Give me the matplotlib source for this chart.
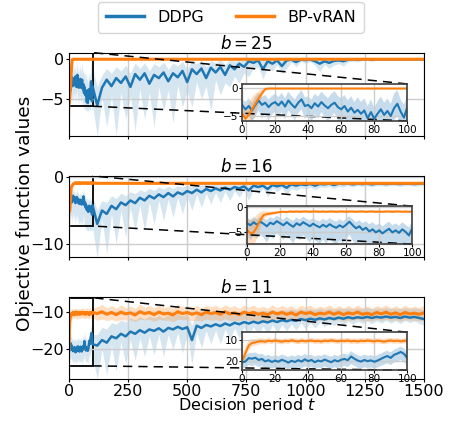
import numpy as np
import matplotlib
matplotlib.use("Agg")
import matplotlib.pyplot as plt
from mpl_toolkits.axes_grid1.inset_locator import mark_inset

# time grid: fine steps for the first 100 periods (zoomed part), coarser after
t_early = np.arange(0, 101, 2)
t_late = np.arange(120, 1501, 20)
t = np.concatenate([t_early, t_late])

# ---- b = 25 ----
ddpg_25 = [
    -3.0, -3.8, -3.2, -4.0, -3.0, -2.2, -3.0, -2.6, -3.4, -2.8,
    -2.5, -3.1, -2.4, -3.3, -2.2, -2.9, -3.5, -2.6, -2.0, -3.2,
    -3.0, -3.6, -2.7, -3.3, -2.5, -3.1, -3.6, -3.0, -2.6, -3.4,
    -3.8, -3.2, -4.2, -3.5, -4.4, -3.9, -4.6, -4.0, -5.4, -4.3,
    -5.5, -4.6, -3.8, -4.8, -4.1, -5.0, -3.6, -2.8, -4.2, -5.3,
    -3.4,
    -5.8, -3.6, -2.6, -3.4, -2.4, -3.0, -2.2, -3.5, -1.9, -2.6,
    -1.8, -3.1, -2.0, -2.4, -1.7, -2.8, -1.8, -2.3, -1.5, -2.9,
    -1.3, -1.9, -1.2, -2.4, -1.1, -1.7, -1.0, -2.0, -0.8, -1.3,
    -0.6, -1.0, -0.3, -0.5, -0.2, -1.3, -0.3, -0.6, -0.2, -0.9,
    -0.2, -0.1, -0.4, -0.1, -0.15, -0.1, -0.3, -0.6, -0.3, -0.5,
    -0.25, -0.2, -0.3, -0.1, -0.05, -0.1, -0.05, -0.05, -0.1, -0.05,
    -0.05, -0.05, -0.05, -0.05, -0.05, -0.05, -0.05, -0.05, -0.05, -0.05,
]
ddpg_25_lo = [
    -4.5, -5.5, -5.0, -6.0, -5.2, -4.0, -5.5, -4.5, -5.8, -4.8,
    -4.2, -5.0, -4.3, -5.6, -4.0, -4.8, -5.8, -4.5, -3.8, -5.5,
    -5.0, -6.0, -4.6, -5.5, -4.3, -5.2, -6.0, -5.0, -4.5, -5.8,
    -6.2, -5.4, -6.5, -5.8, -6.5, -6.2, -6.5, -6.3, -6.5, -6.5,
    -6.5, -6.5, -6.0, -6.5, -6.3, -6.5, -5.8, -5.0, -6.5, -6.5,
    -5.8,
    -9.6, -4.8, -8.5, -4.6, -9.6, -4.2, -7.5, -4.6, -9.0, -3.8,
    -7.5, -4.2, -8.5, -3.5, -6.5, -3.9, -8.0, -3.3, -6.0, -4.0,
    -6.0, -2.8, -5.0, -3.4, -6.5, -2.6, -4.5, -3.0, -3.5, -2.2,
    -3.0, -1.8, -2.2, -1.2, -1.0, -2.5, -1.0, -1.5, -0.7, -1.8,
    -1.2, -0.4, -1.0, -0.3, -0.6, -0.3, -0.8, -1.6, -0.7, -1.2,
    -0.8, -0.6, -0.9, -0.4, -0.3, -0.4, -0.2, -0.2, -0.3, -0.2,
    -0.2, -0.2, -0.2, -0.2, -0.2, -0.2, -0.2, -0.2, -0.2, -0.2,
]
ddpg_25_hi = [
    -1.8, -2.5, -1.8, -2.6, -1.5, -0.8, -1.6, -1.2, -2.0, -1.4,
    -1.0, -1.6, -0.8, -1.8, -0.6, -1.4, -2.0, -1.0, -0.3, -1.6,
    -1.5, -2.0, -1.0, -1.5, -0.6, -1.2, -1.8, -1.0, -0.5, -1.4,
    -1.8, -1.2, -2.2, -1.4, -2.5, -1.6, -2.5, -1.8, -3.2, -2.0,
    -3.5, -2.4, -1.5, -2.6, -1.8, -2.8, -1.0, -0.3, -2.0, -3.0,
    -1.2,
    -3.5, -2.0, -1.2, -1.8, -1.0, -1.5, -0.8, -1.8, -0.5, -1.2,
    -0.5, -1.5, -0.6, -1.0, -0.4, -1.3, -0.5, -0.9, -0.3, -1.3,
    -0.2, -0.6, -0.2, -1.0, -0.2, -0.5, -0.1, -0.7, -0.1, -0.3,
    -0.05, -0.2, 0.0, 0.0, 0.0, 0.0, 0.0, 0.0, 0.0, 0.0,
    0.0, 0.0, 0.0, 0.0, 0.0, 0.0, 0.0, 0.0, 0.0, 0.0,
    0.0, 0.0, 0.0, 0.0, 0.0, 0.0, 0.0, 0.0, 0.0, 0.0,
    0.0, 0.0, 0.0, 0.0, 0.0, 0.0, 0.0, 0.0, 0.0, 0.0,
]
bp_25 = [
    -4.5, -5.5, -4.8, -3.8, -2.8, -1.8, -0.9, -0.15, -0.05, -0.05,
    -0.05, -0.05, -0.05, -0.05, -0.05, -0.05, -0.05, -0.05, -0.05, -0.05,
    -0.05, -0.05, -0.05, -0.05, -0.05, -0.05, -0.05, -0.05, -0.05, -0.05,
    -0.05, -0.05, -0.05, -0.05, -0.05, -0.05, -0.05, -0.05, -0.05, -0.05,
    -0.05, -0.05, -0.05, -0.05, -0.05, -0.05, -0.05, -0.05, -0.05, -0.05,
    -0.05,
    -0.05, -0.05, -0.05, -0.05, -0.05, -0.05, -0.05, -0.05, -0.05, -0.05,
    -0.05, -0.05, -0.05, -0.05, -0.05, -0.05, -0.05, -0.05, -0.05, -0.05,
    -0.05, -0.05, -0.05, -0.05, -0.05, -0.05, -0.05, -0.05, -0.05, -0.05,
    -0.05, -0.05, -0.05, -0.05, -0.05, -0.05, -0.05, -0.05, -0.05, -0.05,
    -0.05, -0.05, -0.05, -0.05, -0.05, -0.05, -0.05, -0.05, -0.05, -0.05,
    -0.05, -0.05, -0.05, -0.05, -0.05, -0.05, -0.05, -0.05, -0.05, -0.05,
    -0.05, -0.05, -0.05, -0.05, -0.05, -0.05, -0.05, -0.05, -0.05, -0.05,
]
bp_25_sd = [
    1.2, 1.5, 2.0, 2.2, 1.8, 1.2, 0.8, 0.3, 0.1, 0.1,
    0.1, 0.1, 0.1, 0.1, 0.1, 0.1, 0.1, 0.1, 0.1, 0.1,
    0.1, 0.1, 0.1, 0.1, 0.1, 0.1, 0.1, 0.1, 0.1, 0.1,
    0.1, 0.1, 0.1, 0.1, 0.1, 0.1, 0.1, 0.1, 0.1, 0.1,
    0.1, 0.1, 0.1, 0.1, 0.1, 0.1, 0.1, 0.1, 0.1, 0.1,
    0.1,
    0.05, 0.05, 0.05, 0.05, 0.05, 0.05, 0.05, 0.05, 0.05, 0.05,
    0.05, 0.05, 0.05, 0.05, 0.05, 0.05, 0.05, 0.05, 0.05, 0.05,
    0.05, 0.05, 0.05, 0.05, 0.05, 0.05, 0.05, 0.05, 0.05, 0.05,
    0.05, 0.05, 0.05, 0.05, 0.05, 0.05, 0.05, 0.05, 0.05, 0.05,
    0.05, 0.05, 0.05, 0.05, 0.05, 0.05, 0.05, 0.05, 0.05, 0.05,
    0.05, 0.05, 0.05, 0.05, 0.05, 0.05, 0.05, 0.05, 0.05, 0.05,
    0.05, 0.05, 0.05, 0.05, 0.05, 0.05, 0.05, 0.05, 0.05, 0.05,
]

# ---- b = 16 ----
ddpg_16 = [
    -3.2, -3.6, -3.0, -3.5, -2.9, -3.3, -3.8, -3.1, -3.4, -2.8,
    -3.2, -3.6, -3.0, -3.5, -3.9, -3.2, -3.6, -3.0, -3.4, -3.8,
    -3.3, -3.7, -4.0, -3.5, -3.9, -3.4, -3.8, -4.1, -3.6, -4.0,
    -3.5, -2.9, -3.6, -4.2, -3.8, -4.5, -4.1, -4.8, -4.4, -5.0,
    -4.6, -5.2, -4.7, -4.3, -5.0, -4.6, -5.1, -4.4, -4.9, -5.6,
    -4.2,
    -7.0, -5.0, -5.5, -4.3, -4.8, -3.8, -4.2, -3.5, -3.9, -3.1,
    -3.5, -2.8, -3.2, -2.6, -3.0, -2.4, -2.9, -2.3, -2.6, -2.1,
    -2.4, -1.9, -2.3, -1.8, -2.1, -1.7, -2.0, -1.6, -1.9, -1.5,
    -1.7, -1.4, -2.0, -1.3, -1.5, -1.3, -1.8, -1.2, -1.4, -1.2,
    -1.6, -1.1, -1.3, -1.1, -1.2, -1.05, -1.3, -1.05, -1.1, -1.0,
    -1.2, -1.0, -1.05, -1.0, -1.1, -1.0, -1.05, -1.0, -1.1, -1.0,
    -1.0, -1.05, -1.0, -1.0, -1.05, -1.0, -1.0, -1.05, -1.0, -1.0,
]
ddpg_16_lo = [
    -5.5, -6.5, -5.8, -6.2, -5.5, -6.0, -7.0, -5.8, -6.3, -5.2,
    -5.8, -6.5, -5.5, -6.3, -7.2, -5.8, -6.6, -5.5, -6.2, -7.0,
    -6.0, -6.8, -7.3, -6.4, -7.2, -6.2, -7.0, -7.5, -6.6, -7.3,
    -6.4, -5.5, -6.6, -7.6, -7.0, -7.8, -7.4, -8.0, -7.8, -8.0,
    -8.0, -8.0, -8.0, -7.6, -8.0, -8.0, -8.0, -7.8, -8.0, -8.0,
    -7.6,
    -12.0, -6.2, -11.5, -5.5, -10.0, -5.0, -9.0, -4.6, -8.0, -4.2,
    -8.0, -3.8, -7.0, -3.5, -6.5, -3.3, -6.0, -3.1, -5.5, -2.9,
    -5.0, -2.6, -4.5, -2.5, -4.0, -2.3, -3.8, -2.2, -3.5, -2.1,
    -3.0, -1.9, -3.5, -1.8, -2.5, -1.7, -3.0, -1.6, -2.2, -1.6,
    -2.6, -1.7, -2.0, -1.6, -1.8, -1.5, -1.9, -1.5, -1.6, -1.4,
    -1.7, -1.4, -1.5, -1.3, -1.5, -1.3, -1.4, -1.3, -1.5, -1.3,
    -1.3, -1.4, -1.3, -1.3, -1.4, -1.3, -1.3, -1.4, -1.3, -1.3,
]
ddpg_16_hi = [
    -2.2, -2.5, -2.0, -2.4, -1.8, -2.2, -2.6, -2.0, -2.3, -1.7,
    -2.1, -2.5, -1.9, -2.4, -2.7, -2.1, -2.5, -1.9, -2.3, -2.6,
    -2.2, -2.6, -2.8, -2.3, -2.7, -2.2, -2.6, -2.9, -2.4, -2.8,
    -2.3, -1.8, -2.4, -3.0, -2.6, -3.2, -2.8, -3.4, -3.0, -3.6,
    -3.2, -3.8, -3.3, -2.9, -3.6, -3.2, -3.7, -3.0, -3.5, -4.0,
    -2.9,
    -5.0, -3.5, -3.8, -2.8, -3.2, -2.4, -2.8, -2.2, -2.5, -1.9,
    -2.2, -1.7, -2.0, -1.5, -1.8, -1.4, -1.7, -1.3, -1.5, -1.2,
    -1.4, -1.1, -1.3, -1.0, -1.2, -0.9, -1.1, -0.9, -1.0, -0.8,
    -0.9, -0.8, -1.0, -0.7, -0.8, -0.7, -0.9, -0.7, -0.8, -0.7,
    -0.8, -0.7, -0.7, -0.7, -0.7, -0.7, -0.7, -0.7, -0.7, -0.7,
    -0.7, -0.7, -0.7, -0.7, -0.7, -0.7, -0.7, -0.7, -0.7, -0.7,
    -0.7, -0.7, -0.7, -0.7, -0.7, -0.7, -0.7, -0.7, -0.7, -0.7,
]
bp_16 = [
    -4.5, -5.2, -5.0, -3.9, -2.6, -1.6, -1.4, -1.3, -1.2, -1.1,
    -1.0, -0.95, -1.0, -0.9, -0.95, -0.9, -0.95, -0.9, -0.9, -0.95,
    -0.9, -0.9, -0.95, -0.9, -0.95, -0.9, -0.9, -0.95, -0.9, -0.9,
    -0.95, -0.9, -0.9, -0.95, -0.9, -0.9, -0.95, -0.9, -0.9, -0.95,
    -0.9, -0.95, -0.9, -0.9, -0.95, -0.9, -0.9, -0.95, -0.9, -0.95,
    -0.9,
    -0.95, -0.95, -0.95, -0.95, -0.95, -0.95, -0.95, -0.95, -0.95, -0.95,
    -0.95, -0.95, -0.95, -0.95, -0.95, -0.95, -0.95, -0.95, -0.95, -0.95,
    -0.95, -0.95, -0.95, -0.95, -0.95, -0.95, -0.95, -0.95, -0.95, -0.95,
    -0.95, -0.95, -0.95, -0.95, -0.95, -0.95, -0.95, -0.95, -0.95, -0.95,
    -0.95, -0.95, -0.95, -0.95, -0.95, -0.95, -0.95, -0.95, -0.95, -0.95,
    -0.95, -0.95, -0.95, -0.95, -0.95, -0.95, -0.95, -0.95, -0.95, -0.95,
    -0.95, -0.95, -0.95, -0.95, -0.95, -0.95, -0.95, -0.95, -0.95, -0.95,
]
bp_16_sd = [
    2.5, 2.5, 2.6, 2.4, 1.6, 0.8, 0.5, 0.4, 0.3, 0.25,
    0.2, 0.2, 0.2, 0.2, 0.2, 0.2, 0.2, 0.2, 0.2, 0.2,
    0.2, 0.2, 0.2, 0.2, 0.2, 0.2, 0.2, 0.2, 0.2, 0.2,
    0.2, 0.2, 0.2, 0.2, 0.2, 0.2, 0.2, 0.2, 0.2, 0.2,
    0.2, 0.2, 0.2, 0.2, 0.2, 0.2, 0.2, 0.2, 0.2, 0.2,
    0.2,
    0.15, 0.15, 0.15, 0.15, 0.15, 0.15, 0.15, 0.15, 0.15, 0.15,
    0.15, 0.15, 0.15, 0.15, 0.15, 0.15, 0.15, 0.15, 0.15, 0.15,
    0.15, 0.15, 0.15, 0.15, 0.15, 0.15, 0.15, 0.15, 0.15, 0.15,
    0.15, 0.15, 0.15, 0.15, 0.15, 0.15, 0.15, 0.15, 0.15, 0.15,
    0.15, 0.15, 0.15, 0.15, 0.15, 0.15, 0.15, 0.15, 0.15, 0.15,
    0.15, 0.15, 0.15, 0.15, 0.15, 0.15, 0.15, 0.15, 0.15, 0.15,
    0.15, 0.15, 0.15, 0.15, 0.15, 0.15, 0.15, 0.15, 0.15, 0.15,
]

# ---- b = 11 ----
ddpg_11 = [
    -20.8, -20.2, -18.6, -18.9, -18.4, -19.5, -19.0, -20.2, -19.6, -20.5,
    -19.8, -20.4, -19.4, -20.0, -20.8, -19.9, -20.5, -19.6, -20.3, -19.2,
    -20.1, -19.5, -20.6, -19.8, -20.2, -19.3, -20.0, -20.6, -19.6, -20.2,
    -19.4, -19.0, -19.6, -17.8, -18.9, -19.8, -20.3, -19.5, -20.1, -19.7,
    -20.4, -19.8, -19.0, -18.2, -17.6, -18.5, -17.0, -16.4, -15.6, -16.5,
    -18.6,
    -19.0, -17.5, -18.2, -16.5, -17.0, -15.8, -16.5, -15.2, -15.8, -14.8,
    -15.5, -14.6, -15.0, -14.3, -15.2, -14.2, -14.6, -13.9, -14.5, -14.0,
    -17.5, -13.6, -14.2, -13.4, -13.8, -13.2, -13.7, -13.0, -13.5, -12.8,
    -13.2, -12.6, -13.0, -12.5, -12.9, -12.4, -12.7, -12.2, -12.6, -12.1,
    -12.4, -12.0, -12.3, -11.8, -12.1, -11.7, -12.0, -11.6, -11.9, -11.5,
    -11.8, -11.4, -11.7, -11.3, -11.6, -11.3, -11.5, -11.2, -11.5, -11.2,
    -11.4, -11.1, -11.4, -11.2, -11.5, -11.1, -11.4, -11.2, -11.5, -11.8,
]
ddpg_11_lo = [
    -23.5, -23.5, -22.0, -22.5, -22.0, -23.0, -22.5, -23.5, -23.0, -23.8,
    -23.0, -23.8, -22.8, -23.5, -24.0, -23.2, -23.8, -23.0, -23.6, -22.6,
    -23.4, -22.8, -24.0, -23.2, -23.5, -22.7, -23.4, -24.0, -23.0, -23.6,
    -22.8, -22.4, -23.0, -21.5, -22.4, -23.2, -23.8, -23.0, -23.5, -23.2,
    -23.8, -23.2, -22.5, -21.8, -21.2, -22.0, -20.8, -20.2, -19.5, -20.5,
    -22.2,
    -28.0, -20.0, -27.0, -19.0, -26.0, -18.0, -24.0, -17.5, -23.0, -17.0,
    -22.0, -16.5, -21.5, -16.0, -22.0, -16.0, -20.0, -15.5, -21.0, -16.0,
    -24.0, -15.5, -19.5, -15.0, -18.5, -14.8, -18.5, -14.5, -17.5, -14.3,
    -17.0, -14.0, -16.5, -13.8, -16.5, -13.7, -16.0, -13.4, -15.5, -13.3,
    -15.0, -13.1, -14.8, -12.9, -14.5, -12.8, -14.2, -12.7, -14.0, -12.6,
    -13.6, -12.5, -13.4, -12.4, -13.2, -12.4, -13.0, -12.3, -13.1, -12.3,
    -12.9, -12.2, -12.9, -12.3, -13.0, -12.2, -12.8, -12.3, -13.0, -13.4,
]
ddpg_11_hi = [
    -18.0, -17.5, -16.0, -16.2, -15.8, -16.8, -16.4, -17.5, -17.0, -17.8,
    -17.2, -17.8, -16.8, -17.4, -18.0, -17.3, -17.8, -17.0, -17.6, -16.6,
    -17.4, -16.9, -17.9, -17.2, -17.5, -16.7, -17.4, -17.9, -17.0, -17.6,
    -16.8, -16.4, -17.0, -15.2, -16.3, -17.2, -17.6, -16.9, -17.4, -17.1,
    -17.7, -17.1, -16.4, -15.6, -15.0, -15.8, -14.5, -13.8, -13.0, -13.8,
    -16.0,
    -16.0, -14.0, -14.5, -12.8, -13.2, -12.0, -12.6, -11.5, -12.0, -11.2,
    -11.8, -11.0, -11.4, -10.8, -11.5, -10.6, -11.0, -10.4, -10.9, -10.5,
    -13.5, -10.2, -10.8, -10.1, -10.4, -9.9, -10.3, -9.8, -10.2, -9.6,
    -10.0, -9.5, -9.8, -9.4, -9.8, -9.4, -9.6, -9.2, -9.6, -9.2,
    -9.4, -9.1, -9.4, -9.0, -9.3, -9.0, -9.2, -8.9, -9.2, -8.9,
    -9.1, -8.8, -9.0, -8.8, -9.0, -8.8, -8.9, -8.7, -9.0, -8.8,
    -8.9, -8.7, -8.9, -8.8, -9.0, -8.7, -8.9, -8.8, -9.0, -9.2,
]
bp_11 = [
    -20.0, -16.2, -12.4, -11.2, -10.9, -10.5, -10.3, -10.6, -10.1, -10.4,
    -10.0, -10.3, -10.6, -10.2, -10.4, -9.9, -10.3, -10.5, -10.1, -10.4,
    -10.2, -10.0, -10.4, -10.2, -10.5, -10.1, -10.3, -9.9, -10.2, -10.4,
    -10.1, -10.3, -10.0, -10.4, -10.2, -10.5, -10.1, -10.3, -10.0, -10.2,
    -10.4, -10.1, -10.3, -10.6, -10.2, -10.0, -10.3, -10.1, -10.4, -10.2,
    -10.0,
    -10.3, -9.8, -10.5, -10.0, -10.6, -9.9, -10.4, -10.1, -10.7, -9.8,
    -10.3, -10.0, -10.6, -9.9, -10.4, -10.2, -10.7, -9.8, -10.3, -10.0,
    -10.5, -10.1, -10.6, -9.9, -10.3, -10.0, -10.5, -9.8, -10.4, -10.1,
    -10.6, -9.9, -10.3, -10.0, -10.5, -10.2, -10.6, -9.9, -10.4, -10.0,
    -10.5, -10.1, -10.7, -9.9, -10.3, -10.0, -10.6, -10.2, -10.4, -9.9,
    -10.5, -10.0, -10.6, -10.1, -10.4, -9.9, -10.5, -10.2, -10.6, -10.0,
    -10.4, -9.9, -10.5, -10.1, -10.6, -10.0, -10.4, -10.2, -10.5, -10.1,
]
bp_11_sd = [
    1.5, 3.0, 2.6, 1.8, 1.6, 1.5, 1.4, 1.4, 1.3, 1.3,
    1.3, 1.3, 1.3, 1.3, 1.3, 1.3, 1.3, 1.3, 1.3, 1.3,
    1.3, 1.3, 1.3, 1.3, 1.3, 1.3, 1.3, 1.3, 1.3, 1.3,
    1.3, 1.3, 1.3, 1.3, 1.3, 1.3, 1.3, 1.3, 1.3, 1.3,
    1.3, 1.3, 1.3, 1.3, 1.3, 1.3, 1.3, 1.3, 1.3, 1.3,
    1.3,
    1.8, 2.0, 1.7, 1.9, 1.8, 2.0, 1.7, 1.9, 1.8, 2.0,
    1.7, 1.9, 1.8, 2.0, 1.7, 1.9, 1.8, 2.0, 1.7, 1.9,
    1.8, 2.0, 1.7, 1.9, 1.8, 2.0, 1.7, 1.9, 1.8, 2.0,
    1.7, 1.9, 1.8, 2.0, 1.7, 1.9, 1.8, 2.0, 1.7, 1.9,
    1.8, 2.0, 1.7, 1.9, 1.8, 2.0, 1.7, 1.9, 1.8, 2.0,
    1.7, 1.9, 1.8, 2.0, 1.7, 1.9, 1.8, 2.0, 1.7, 1.9,
    1.8, 2.0, 1.7, 1.9, 1.8, 2.0, 1.7, 1.9, 1.8, 2.0,
]

budgets = [25, 16, 11]
ddpg_mean = [ddpg_25, ddpg_16, ddpg_11]
ddpg_lo = [ddpg_25_lo, ddpg_16_lo, ddpg_11_lo]
ddpg_hi = [ddpg_25_hi, ddpg_16_hi, ddpg_11_hi]
bp_mean = [bp_25, bp_16, bp_11]
bp_sd = [bp_25_sd, bp_16_sd, bp_11_sd]

main_ylim = [(-9.6, 0.75), (-11.9, 0.15), (-28.1, -5.9)]
main_yticks = [[0, -5], [0, -10], [-10, -20]]
zoom_ylim = [(-5.9, 0.78), (-7.3, 0.15), (-24.5, -6.0)]
zoom_yticks = [[0, -5], [0, -5], [-10, -20]]
zoom_yticklabels = [["0", "\u22125"], ["0", "\u22125"], ["10", "20"]]

# axes positions in figure fractions
main_pos = [[0.153, 0.681, 0.789, 0.195],
            [0.153, 0.397, 0.789, 0.190],
            [0.153, 0.110, 0.789, 0.192]]
zoom_pos = [[0.538, 0.716, 0.367, 0.087],
            [0.549, 0.427, 0.367, 0.089],
            [0.538, 0.131, 0.367, 0.089]]

blue = "#1f77b4"
orange = "#ff7f0e"

fig = plt.figure(figsize=(4.5, 4.26), dpi=100)

for i, b in enumerate(budgets):
    m = np.array(ddpg_mean[i])
    lo = np.array(ddpg_lo[i])
    hi = np.array(ddpg_hi[i])
    o = np.array(bp_mean[i])
    s = np.array(bp_sd[i])

    ax = fig.add_axes(main_pos[i])
    ax.fill_between(t, lo, hi, color=blue, alpha=0.18, lw=0)
    ax.fill_between(t, o - s, o + s, color=orange, alpha=0.25, lw=0)
    ax.plot(t, m, color=blue, lw=1.8, label="DDPG")
    ax.plot(t, o, color=orange, lw=2.2, label="BP-vRAN")
    ax.set_xlim(0, 1500)
    ax.set_ylim(*main_ylim[i])
    ax.set_yticks(main_yticks[i])
    ax.set_xticks(np.arange(0, 1501, 250))
    ax.grid(True, color="#cccccc", lw=1)
    ax.tick_params(labelsize=11.5, length=2, pad=1.5)
    if i < 2:
        ax.set_xticklabels([])
    ax.set_title("$b = %d$" % b, fontsize=12, pad=3)

    axins = fig.add_axes(zoom_pos[i])
    axins.fill_between(t, lo, hi, color=blue, alpha=0.25, lw=0)
    axins.fill_between(t, o - s, o + s, color=orange, alpha=0.25, lw=0)
    axins.plot(t, m, color=blue, lw=1.5)
    axins.plot(t, o, color=orange, lw=1.5)
    axins.set_xlim(0, 100)
    axins.set_ylim(*zoom_ylim[i])
    axins.set_xticks(np.arange(0, 101, 20))
    axins.set_yticks(zoom_yticks[i])
    axins.set_yticklabels(zoom_yticklabels[i])
    axins.grid(True, color="#cccccc", lw=1)
    axins.tick_params(labelsize=7.5, length=2, pad=1)
    for sp in axins.spines.values():
        sp.set_color("0.25")
        sp.set_linewidth(1.2)

    pp, p1, p2 = mark_inset(ax, axins, loc1=1, loc2=4, fc="none", ec="k", lw=1.1)
    pp.set_linewidth(1.3)
    p1.set_linestyle((0, (6, 4)))
    p2.set_linestyle((0, (6, 4)))

    if i == 0:
        handles, labels = ax.get_legend_handles_labels()

leg = fig.legend(handles, labels, loc="upper center", bbox_to_anchor=(0.513, 1.0),
                 borderaxespad=0.1, borderpad=0.5,
                 ncol=2, fontsize=11.5, handlelength=2.4, columnspacing=2.0)
for line in leg.get_lines():
    line.set_linewidth(2.5)

fig.text(0.548, 0.037, "Decision period $t$", ha="center", va="baseline",
         fontsize=11.5)
fig.text(0.056, 0.50, "Objective function values", rotation=90,
         ha="center", va="center", fontsize=13.3)

fig.savefig("out.png", dpi=100)
